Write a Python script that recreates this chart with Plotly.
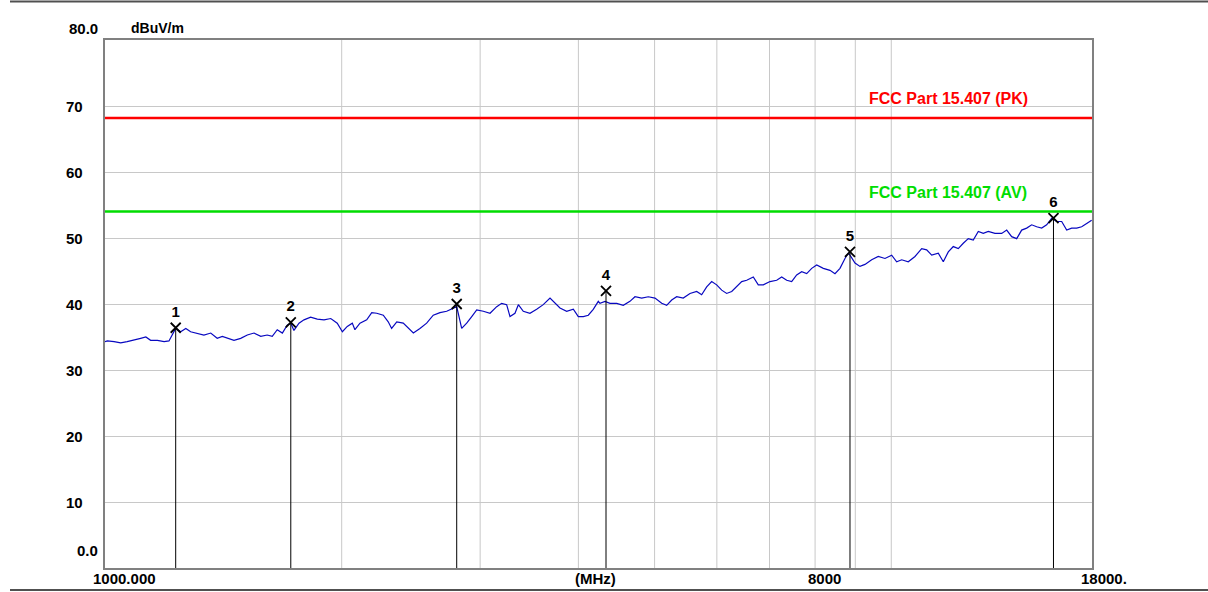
import math

import plotly.graph_objects as go

# swept trace (MHz, dBuV/m)
freq_mhz = [
    1000, 1007, 1027, 1047, 1067, 1089, 1110, 1127, 1143, 1166, 1189, 1206, 1218,
    1230, 1248, 1267, 1285, 1310, 1336, 1363, 1389, 1410, 1431, 1459, 1488, 1517,
    1547, 1578, 1608, 1632, 1656, 1681, 1705, 1723, 1739, 1765, 1791, 1826, 1862,
    1899, 1937, 1974, 2004, 2033, 2063,
    2079, 2110, 2152, 2184, 2216, 2259, 2292, 2315, 2350, 2395, 2431, 2467, 2515,
    2565, 2615, 2667, 2720, 2760, 2801, 2842, 2884, 2927, 2970, 3028, 3088, 3149,
    3195, 3242, 3274, 3322, 3355, 3404, 3471, 3540, 3609, 3681, 3735, 3790, 3865,
    3941, 3999, 4058, 4118, 4178, 4240,
    4261, 4324, 4388, 4475, 4562, 4652, 4721, 4815, 4909, 5006, 5105, 5180, 5257,
    5334, 5438, 5546, 5656, 5739, 5824, 5910, 5997, 6086, 6175, 6267, 6359, 6453,
    6548, 6676, 6774, 6874, 7010, 7149, 7255, 7362, 7470, 7580, 7692, 7806, 7921,
    8038, 8195, 8357, 8480, 8605, 8732, 8817,
    8861, 8992, 9124, 9259, 9442, 9626, 9817, 10012, 10159, 10309, 10510, 10719,
    10931, 11092, 11256, 11476, 11645, 11817, 11991, 12168, 12347, 12529, 12714,
    12902, 13092, 13285, 13548, 13817, 14021, 14227, 14437, 14650, 14866, 15086,
    15308, 15534, 15763, 15996, 16232, 16471, 16714, 16960, 17211, 17464, 17722,
    17983,
]
level_dbuv = [
    34.3, 34.4, 34.3, 34.1, 34.3, 34.5, 34.8, 35.0, 34.5, 34.5, 34.3, 34.4, 35.3,
    36.3, 35.8, 36.3, 35.8, 35.6, 35.3, 35.6, 34.8, 35.1, 34.8, 34.5, 34.8, 35.3,
    35.6, 35.1, 35.3, 35.1, 36.1, 35.6, 36.8, 37.1, 36.0, 37.1, 37.6, 38.0, 37.7,
    37.6, 37.8, 37.1, 35.8, 36.6, 37.1,
    36.1, 37.1, 37.6, 38.7, 38.6, 38.3, 37.3, 36.3, 37.3, 37.1, 36.3, 35.6, 36.3,
    37.1, 38.3, 38.7, 38.9, 39.2, 39.6, 36.3, 37.1, 38.1, 39.1, 38.9, 38.6, 39.6,
    40.1, 39.9, 38.1, 38.6, 39.9, 38.9, 38.6, 39.2, 39.9, 40.9, 40.1, 39.4, 38.9,
    39.2, 38.1, 38.1, 38.3, 39.2, 40.4,
    40.1, 40.4, 40.1, 40.1, 39.8, 40.4, 41.1, 40.9, 41.1, 40.9, 40.1, 39.8, 40.6,
    41.1, 40.9, 41.6, 41.9, 41.4, 42.6, 43.4, 42.9, 42.1, 41.6, 41.9, 42.6, 43.4,
    43.6, 44.1, 42.9, 42.9, 43.4, 43.6, 44.1, 43.6, 43.4, 44.4, 44.9, 44.6, 45.4,
    45.9, 45.4, 45.1, 44.6, 45.4, 46.9, 47.7,
    47.4, 46.2, 45.7, 46.0, 46.7, 47.2, 46.9, 47.4, 46.4, 46.7, 46.4, 47.2,
    48.4, 48.2, 47.4, 47.7, 46.4, 47.9, 48.7, 48.4, 49.2, 49.9, 49.7,
    51.0, 50.7, 51.0, 50.7, 50.7, 51.2, 50.2, 49.9, 51.2, 51.5, 52.0,
    51.7, 51.5, 52.0, 53.0, 52.5, 52.5, 51.2, 51.5, 51.5, 51.7, 52.2,
    52.7,
]

# peak markers
marker_ids = ["1", "2", "3", "4", "5", "6"]
marker_freq = [1230, 1723, 2801, 4337, 8861, 16080]
marker_level = [36.4, 37.2, 40.0, 42.0, 47.9, 53.0]

# limit lines
limit_names = ["FCC Part 15.407 (PK)", "FCC Part 15.407 (AV)"]
limit_levels = [68.2, 54.0]
limit_colors = ["#ff0000", "#00dd00"]

f_start, f_stop = 1000, 18000
y_ticks = [0, 10, 20, 30, 40, 50, 60, 70, 80]
x_grid = [2000, 3000, 4000, 5000, 6000, 7000, 8000, 9000, 10000]
x_labels = ["1000.000", "(MHz)", "8000", "18000."]

FONT = "Liberation Sans"
GRID = "#c8c8c8"

fig = go.Figure()

fig.add_trace(go.Scatter(
    x=freq_mhz, y=level_dbuv, mode="lines",
    line=dict(color="#0808c0", width=1.2), hoverinfo="x+y",
))

for name, lvl, col in zip(limit_names, limit_levels, limit_colors):
    fig.add_trace(go.Scatter(
        x=[f_start, f_stop], y=[lvl, lvl], mode="lines",
        line=dict(color=col, width=2.5), name=name,
    ))

# marker drop lines down to the axis
drop_x, drop_y = [], []
for f, lvl in zip(marker_freq, marker_level):
    drop_x += [f, f, None]
    drop_y += [0, lvl, None]
fig.add_trace(go.Scatter(
    x=drop_x, y=drop_y, mode="lines",
    line=dict(color="#000000", width=1), hoverinfo="skip",
))
fig.add_trace(go.Scatter(
    x=marker_freq, y=marker_level, mode="markers+text",
    text=marker_ids, textposition="top center",
    textfont=dict(family=FONT, size=15, color="#000000", weight="bold"),
    marker=dict(symbol="x-thin-open", size=10, color="#000000",
                line=dict(color="#000000", width=1.8)),
    cliponaxis=False,
))

for f in x_grid:
    fig.add_shape(type="line", xref="x", yref="paper", x0=f, x1=f, y0=0, y1=1,
                  line=dict(color=GRID, width=1), layer="below")


def px_x(px):
    return (px - 105) / 987


def px_y(py):
    return (568 - py) / 528


annotations = []
for name, lvl, col in zip(limit_names, limit_levels, limit_colors):
    annotations.append(dict(
        x=math.log10(9300), y=lvl + 2.9, xref="x", yref="y", text=name,
        showarrow=False, xanchor="left", yanchor="middle",
        font=dict(family=FONT, size=16, color=col, weight="bold"),
    ))

for t in y_ticks:
    if t == 80:
        lab, yp, xa, xp = f"{t:.1f}", px_y(28), "right", px_x(100)
    elif t == 0:
        lab, yp, xa, xp = f"{t:.1f}", px_y(550), "right", px_x(100)
    else:
        lab, yp, xa, xp = str(t), t / 80, "left", px_x(64)
    annotations.append(dict(
        x=xp, y=yp, xref="paper", yref="paper", text=lab, showarrow=False,
        xanchor=xa, yanchor="middle",
        font=dict(family=FONT, size=15, color="#000000", weight="bold"),
    ))

annotations.append(dict(
    x=px_x(129), y=px_y(28), xref="paper", yref="paper", text="dBuV/m",
    showarrow=False, xanchor="left", yanchor="middle",
    font=dict(family=FONT, size=14, color="#000000", weight="bold"),
))

for lab, cx in zip(x_labels, [124, 595, 824, 1104]):
    annotations.append(dict(
        x=px_x(cx), y=px_y(578), xref="paper", yref="paper", text=lab,
        showarrow=False, xanchor="center", yanchor="middle",
        font=dict(family=FONT, size=15, color="#000000", weight="bold"),
    ))

# frame lines across the page
for py in [1.5, 590]:
    fig.add_shape(type="line", xref="paper", yref="paper",
                  x0=px_x(10), x1=px_x(1208), y0=px_y(py), y1=px_y(py),
                  line=dict(color="#505050", width=2))

fig.update_layout(
    width=1208, height=592,
    margin=dict(l=105, r=116, t=40, b=24),
    paper_bgcolor="#ffffff", plot_bgcolor="#ffffff",
    showlegend=False,
    annotations=annotations,
    xaxis=dict(
        type="log", range=[math.log10(f_start), math.log10(f_stop)],
        showgrid=False, showticklabels=False, ticks="", zeroline=False,
        showline=True, linecolor="#808080", linewidth=2, mirror=True,
    ),
    yaxis=dict(
        range=[0, 80], tickvals=y_ticks, showticklabels=False, ticks="",
        showgrid=True, gridcolor=GRID, gridwidth=1, zeroline=False,
        showline=True, linecolor="#808080", linewidth=2, mirror=True,
    ),
)

fig.write_html("out.html", config={"displayModeBar": False},
               post_script="document.body.style.margin='0';")
